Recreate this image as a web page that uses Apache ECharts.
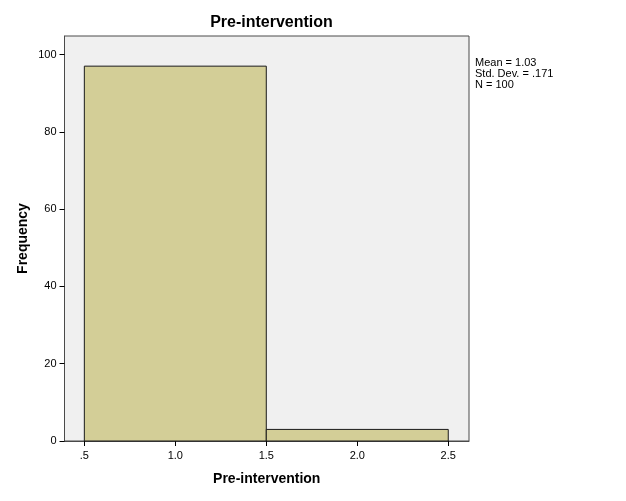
<!DOCTYPE html>
<html><head><meta charset="utf-8">
<script src="https://cdn.jsdelivr.net/npm/echarts@6/dist/echarts.min.js"></script>
<style>html,body{margin:0;padding:0;background:#fff}#c{width:626px;height:501px}</style>
</head><body><div id="c"></div>
<script>
var binStarts = [0.5, 1.5];
var binEnds = [1.5, 2.5];
var frequencies = [97, 3];
var xTicks = [0.5, 1.0, 1.5, 2.0, 2.5];
var xTickLabels = ['.5', '1.0', '1.5', '2.0', '2.5'];
var yTicks = [0, 20, 40, 60, 80, 100];
var statsLines = ['Mean = 1.03', 'Std. Dev. = .171', 'N = 100'];

var font = 'Liberation Sans, Arial, sans-serif';
var chart = echarts.init(document.getElementById('c'), null, {renderer: 'canvas'});
var data = binStarts.map(function (s, i) { return [s, binEnds[i], frequencies[i]]; });

chart.setOption({
  animation: false,
  backgroundColor: '#ffffff',
  title: {
    text: 'Pre-intervention', left: 266.5, textAlign: 'center', top: 10,
    textStyle: {fontFamily: font, fontSize: 16, fontWeight: 'bold', color: '#000'}
  },
  graphic: [{
    type: 'text', left: 475, top: 57,
    style: {text: statsLines.join('\n'), fontFamily: font, fontSize: 11, lineHeight: 11, fill: '#000'}
  }],
  grid: {left: 64.5, right: 626 - 469, top: 36, bottom: 501 - 441, show: true,
    backgroundColor: '#f0f0f0', borderColor: '#4a4a4a', borderWidth: 1},
  xAxis: {
    type: 'value', min: 0.391, max: 2.614,
    name: 'Pre-intervention', nameLocation: 'middle', nameGap: 31,
    nameTextStyle: {fontFamily: font, fontSize: 14, fontWeight: 'bold', color: '#000'},
    axisLine: {show: true, lineStyle: {color: '#4a4a4a'}},
    axisTick: {show: true, length: 5, customValues: xTicks, lineStyle: {color: '#000'}},
    axisLabel: {customValues: xTicks, fontFamily: font, fontSize: 11, color: '#000', margin: 9,
      formatter: function (v) { var i = xTicks.indexOf(v); return i >= 0 ? xTickLabels[i] : ''; }},
    splitLine: {show: false}
  },
  yAxis: {
    type: 'value', min: 0, max: 104.8,
    name: 'Frequency', nameLocation: 'middle', nameGap: 34, nameRotate: 90, nameMoveOverlap: false,
    nameTextStyle: {fontFamily: font, fontSize: 14, fontWeight: 'bold', color: '#000'},
    axisLine: {show: true, lineStyle: {color: '#4a4a4a'}},
    axisTick: {show: true, length: 5, customValues: yTicks, lineStyle: {color: '#000'}},
    axisLabel: {customValues: yTicks, fontFamily: font, fontSize: 11, color: '#000', margin: 8},
    splitLine: {show: false}
  },
  series: [{
    type: 'custom',
    data: data,
    renderItem: function (params, api) {
      var p0 = api.coord([api.value(0), api.value(2)]);
      var p1 = api.coord([api.value(1), 0]);
      return {
        type: 'rect',
        shape: {x: p0[0], y: p0[1], width: p1[0] - p0[0], height: p1[1] - p0[1]},
        style: {fill: '#d3ce97', stroke: '#1a1a1a', lineWidth: 1}
      };
    }
  }]
});
</script></body></html>
